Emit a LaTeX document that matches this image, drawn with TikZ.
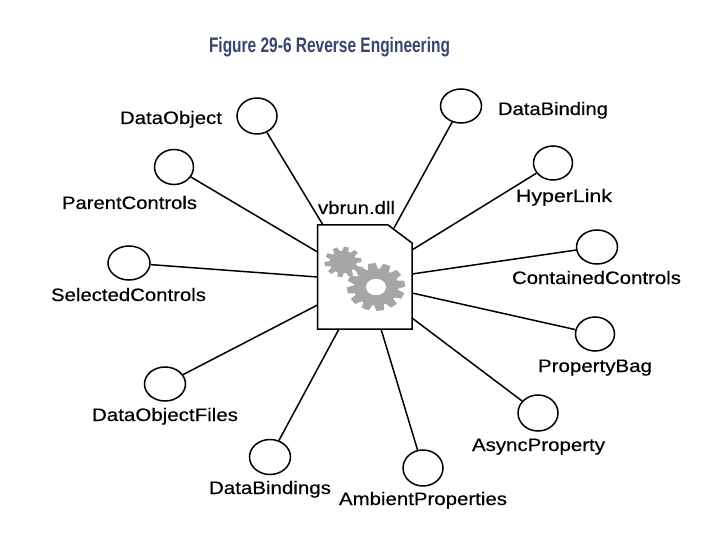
\documentclass[tikz,border=0pt]{standalone}
\usepackage{fontspec}
\usepackage{graphicx}
\setmainfont{Liberation Sans}
\usetikzlibrary{shapes.geometric}
\definecolor{titleblue}{HTML}{3B4470}
\definecolor{geargray}{HTML}{A6A6A6}
\newsavebox{\fitbox}
\newcommand{\fitw}[2]{\sbox{\fitbox}{#2}\pgfmathsetmacro{\fitr}{#1/\wd\fitbox*1pt}\scalebox{\fitr}[1]{\usebox{\fitbox}}}
\newcommand{\gearshape}[7]{% x y rout rroot rx ry teeth
  \begin{scope}[shift={(#1,#2)},yscale=0.82]
  \fill[geargray] (0,0) circle[radius=#4];
  \foreach \a in {1,...,#7}{
    \fill[geargray,rotate=\a*360/#7+8]
      (#4-1,-#3*0.17) -- (#3,-#3*0.13) -- (#3,#3*0.13) -- (#4-1,#3*0.17) -- cycle;
  }
  \fill[white] (0,0) circle[radius=#5];
  \end{scope}
}
\tikzset{
  pin/.style={ellipse,draw=black,line width=1.5pt,fill=white,inner sep=0pt,minimum width=40pt,minimum height=36pt},
  lab/.style={anchor=base,inner sep=0pt,font=\fontsize{18}{20}\selectfont\addfontfeatures{FakeBold=0.25},text=black},
  link/.style={line width=1.5pt,draw=black},
}
\begin{document}
\begin{tikzpicture}[x=1pt,y=-1pt]
\useasboundingbox (0,0) rectangle (720,540);
\fill[white] (0,0) rectangle (720,540);
% title
\node[anchor=base,inner sep=0pt,font=\fontsize{21}{23}\selectfont\bfseries,text=titleblue] (title) at (329.5,53) {\fitw{241}{Figure 29-6 Reverse Engineering}};
% document
\draw[line width=1.5pt,fill=white] (317.5,225) coordinate (tl) -- (388,225) -- (412,243) -- (412,329) -- (317.5,329) -- cycle;
\gearshape{343}{262}{18.5}{13.5}{4.5}{4}{10}
\fill[white] (376,287) ellipse[x radius=27,y radius=22];
\fill[geargray] (343,262) ellipse[x radius=13.5,y radius=11];
\gearshape{376}{287}{29}{22.5}{10}{7.5}{12}
% doc ends
\coordinate (e1) at (323,225);
\coordinate (e2) at (317.5,252);
\coordinate (e3) at (317.5,277);
\coordinate (e4) at (317.5,305);
\coordinate (e5) at (339,329);
\coordinate (e6) at (381,329);
\coordinate (e7) at (412,318);
\coordinate (e8) at (412,293);
\coordinate (e9) at (412,274);
\coordinate (e10) at (412,250);
\coordinate (e11) at (394,228);
% pins
\node[pin] (p1) at (257,116) {};
\node[pin,minimum width=39pt,minimum height=35pt] (p2) at (174,167) {};
\node[pin,minimum width=42pt,minimum height=34pt] (p3) at (129,263) {};
\node[pin,minimum width=41pt,minimum height=34pt] (p4) at (165,384) {};
\node[pin,minimum width=41pt,minimum height=35pt] (p5) at (270,457) {};
\node[pin,minimum width=40pt,minimum height=36pt] (p6) at (423,468) {};
\node[pin] (p7) at (538,413) {};
\node[pin,minimum width=39pt,minimum height=34pt] (p8) at (595,334) {};
\node[pin,minimum width=41pt,minimum height=34pt] (p9) at (597,247) {};
\node[pin,minimum width=39pt,minimum height=34pt] (p10) at (553,163) {};
\node[pin,minimum width=41pt,minimum height=34pt] (p11) at (461,106) {};
% connectors
\foreach \n in {1,...,11}{ \draw[link] (p\n) -- (e\n); }
% labels
\node[lab] (l0) at (356.5,214) {\fitw{77}{vbrun.dll}};
\node[lab] (l1) at (171,124) {\fitw{102}{DataObject}};
\node[lab] (l2) at (129.5,209) {\fitw{135}{ParentControls}};
\node[lab] (l3) at (128.5,301) {\fitw{155}{SelectedControls}};
\node[lab] (l4) at (165,421) {\fitw{146}{DataObjectFiles}};
\node[lab] (l5) at (270,494) {\fitw{122}{DataBindings}};
\node[lab] (l6) at (423,505) {\fitw{168}{AmbientProperties}};
\node[lab] (l7) at (538.5,451) {\fitw{133}{AsyncProperty}};
\node[lab] (l8) at (595,372) {\fitw{114}{PropertyBag}};
\node[lab] (l9) at (596.5,284) {\fitw{169}{ContainedControls}};
\node[lab] (l10) at (564,202) {\fitw{96}{HyperLink}};
\node[lab] (l11) at (553,115) {\fitw{110}{DataBinding}};
\end{tikzpicture}
\end{document}
